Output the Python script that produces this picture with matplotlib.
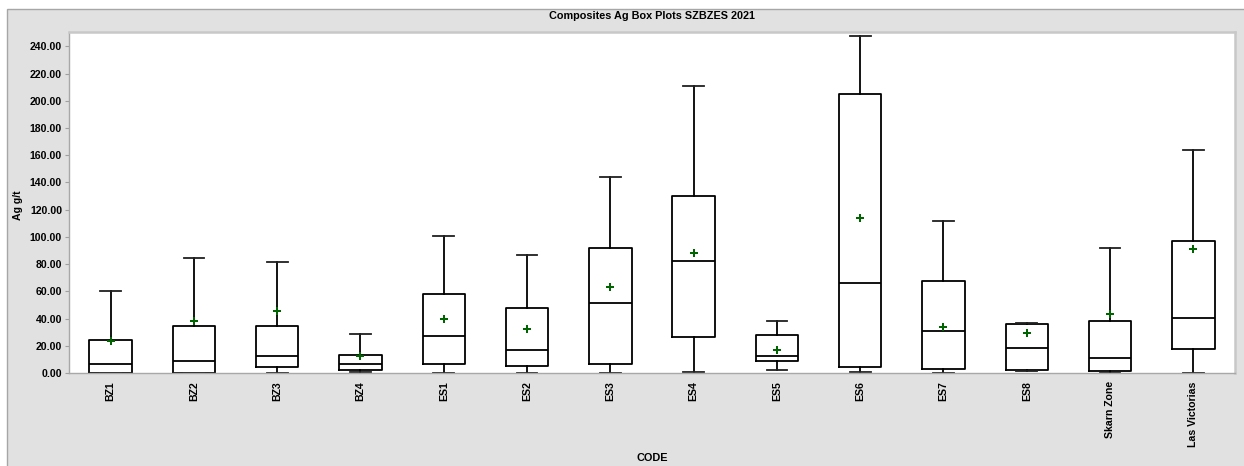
import matplotlib
matplotlib.use("Agg")
import matplotlib.pyplot as plt
from matplotlib.patches import Rectangle

plt.rcParams['font.family'] = ['Liberation Sans', 'DejaVu Sans']

codes = ["BZ1", "BZ2", "BZ3", "BZ4", "ES1", "ES2", "ES3", "ES4", "ES5",
         "ES6", "ES7", "ES8", "Skarn Zone", "Las Victorias"]
whisker_low = [0.0, 0.0, 0.0, 0.5, 0.0, 0.0, 0.0, 1.0, 2.2, 0.5, 0.3, 1.5, 0.0, 0.0]
q1 = [0.0, 0.0, 4.4, 2.2, 6.8, 4.9, 6.8, 26.5, 8.6, 4.4, 2.7, 2.0, 1.5, 17.9]
median = [6.9, 9.0, 12.5, 6.6, 27.4, 17.1, 51.4, 82.1, 12.2, 66.1, 31.1, 18.4, 10.8, 40.4]
q3 = [24.0, 34.8, 34.8, 13.5, 58.3, 47.8, 92.1, 130.3, 27.9, 205.2, 67.6, 36.0, 38.4, 97.0]
whisker_high = [60.2, 84.7, 81.6, 28.9, 100.9, 86.9, 143.8, 210.6, 38.2, 247.8, 111.9, 36.7, 91.6, 163.6]
mean = [23.5, 38.2, 45.8, 12.2, 39.5, 32.3, 63.4, 88.2, 16.7, 113.9, 34.0, 29.6, 43.6, 91.3]
y_ticks = [0, 20, 40, 60, 80, 100, 120, 140, 160, 180, 200, 220, 240]

W, H = 1244, 466
fig = plt.figure(figsize=(W / 100, H / 100), dpi=100)
fig.patch.set_facecolor("white")

# grey chart panel behind the plot area
fig.patches.append(Rectangle((7 / W, -0.01), 1.0, (H - 9) / H + 0.01,
                             transform=fig.transFigure, facecolor="#e1e1e1",
                             edgecolor="#a6a6a6", linewidth=1.0, zorder=-5))

ax = fig.add_axes([69 / W, (H - 373) / H, (1235 - 69) / W, (373 - 32) / H])
ax.set_zorder(2)
ax.set_facecolor("white")

stats = []
for i in range(len(codes)):
    stats.append(dict(whislo=whisker_low[i], q1=q1[i], med=median[i], q3=q3[i],
                      whishi=whisker_high[i], mean=mean[i], label=codes[i]))

lw = 1.3
positions = list(range(1, len(codes) + 1))
ax.bxp(stats, positions=positions, widths=0.51, showfliers=False, showmeans=True,
       boxprops=dict(color="black", linewidth=lw),
       medianprops=dict(color="black", linewidth=lw),
       whiskerprops=dict(color="black", linewidth=lw),
       capprops=dict(color="#202020", linewidth=lw),
       meanprops=dict(marker="P", markersize=5.5, markerfacecolor="#006400",
                      markeredgecolor="#006400", markeredgewidth=0),
       capwidths=0.25)

ax.set_xlim(0.5, len(codes) + 0.5)
ax.set_ylim(0, 250.5)
ax.set_yticks(y_ticks)
ax.set_yticklabels([f"{v:.2f}" for v in y_ticks], fontsize=7.6, fontweight="bold")
ax.set_xticks(positions)
ax.set_xticklabels(codes, rotation=90, fontsize=7.6, fontweight="bold")
ax.tick_params(axis="y", length=3, width=0.8, color="#a0a0a0", pad=2)
ax.tick_params(axis="x", length=0, pad=6)

for side in ["left", "bottom"]:
    ax.spines[side].set_color("#a8a8a8")
    ax.spines[side].set_linewidth(1.0)
for side in ["top", "right"]:
    ax.spines[side].set_color("#c8c8c8")
    ax.spines[side].set_linewidth(1.8)

fig.text((69 + 1235) / 2 / W, 1 - 16 / H, "Composites Ag Box Plots SZBZES 2021",
         ha="center", va="center", fontsize=7.8, fontweight="bold")
fig.text(18 / W, 1 - 205 / H, "Ag g/t", rotation=90, ha="center", va="center",
         fontsize=7.6, fontweight="bold")
fig.text(652 / W, 1 - 458 / H, "CODE", ha="center", va="center",
         fontsize=7.8, fontweight="bold")

fig.savefig("out.png", dpi=100)
